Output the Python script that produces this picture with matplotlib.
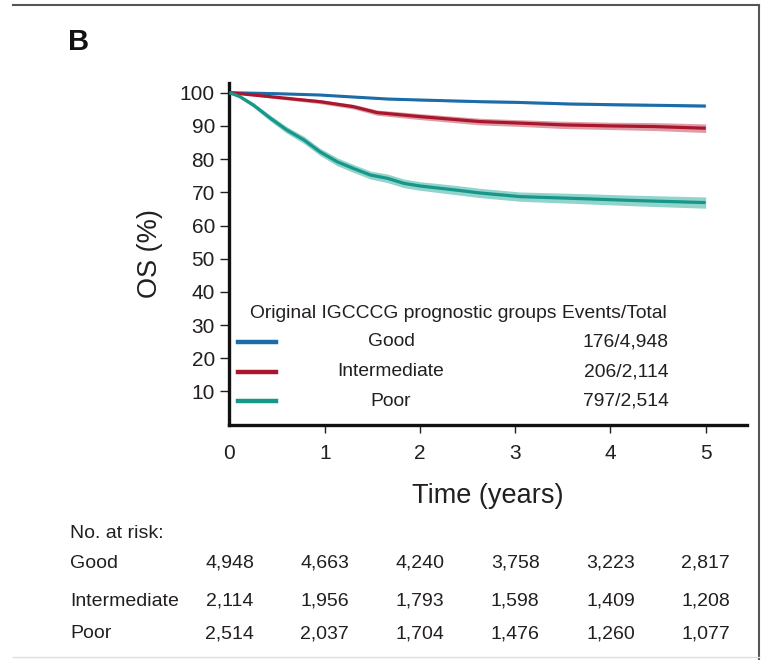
import matplotlib
matplotlib.use("Agg")
import matplotlib.pyplot as plt
from matplotlib.lines import Line2D
import matplotlib.transforms as mtransforms

plt.rcParams['font.family'] = ['Liberation Sans', 'DejaVu Sans']

# ---------------- data ----------------
groups = ["Good", "Intermediate", "Poor"]
events_total = ["176/4,948", "206/2,114", "797/2,514"]

good_t = [0, 0.5, 0.95, 1.3, 1.66, 2.0, 2.63, 3.0, 3.58, 4.0, 4.5, 5.0]
good_s = [100, 99.7, 99.3, 98.7, 98.1, 97.8, 97.3, 97.1, 96.6, 96.4, 96.2, 96.0]
good_lo = [100, 99.6, 99.15, 98.5, 97.85, 97.55, 97.0, 96.8, 96.3, 96.05, 95.85, 95.6]
good_hi = [100, 99.8, 99.45, 98.9, 98.35, 98.05, 97.6, 97.4, 96.9, 96.75, 96.55, 96.4]

int_t = [0, 0.43, 0.95, 1.3, 1.55, 2.0, 2.63, 3.0, 3.51, 4.0, 4.46, 5.0]
int_s = [100, 98.8, 97.3, 95.8, 94.0, 92.8, 91.3, 90.9, 90.3, 90.0, 89.8, 89.3]
int_lo = [100, 98.4, 96.7, 95.1, 93.2, 91.9, 90.3, 89.9, 89.2, 88.9, 88.6, 88.0]
int_hi = [100, 99.2, 97.9, 96.5, 94.8, 93.7, 92.3, 91.9, 91.4, 91.1, 91.0, 90.6]

poor_t = [0, 0.11, 0.25, 0.43, 0.60, 0.78, 0.95, 1.13, 1.30, 1.48, 1.66, 1.83, 2.0, 2.37, 2.63, 3.05, 3.58, 4.28, 5.0]
poor_s = [100, 98.8, 96.3, 92.3, 88.8, 85.8, 82.2, 79.2, 77.2, 75.2, 74.2, 72.7, 71.9, 70.7, 69.8, 68.7, 68.2, 67.5, 66.9]
poor_lo = [100, 98.3, 95.6, 91.4, 87.8, 84.7, 81.1, 78.0, 76.0, 74.0, 72.9, 71.4, 70.6, 69.3, 68.4, 67.3, 66.7, 65.9, 65.2]
poor_hi = [100, 99.3, 97.0, 93.2, 89.8, 86.9, 83.3, 80.4, 78.4, 76.4, 75.5, 74.0, 73.2, 72.1, 71.2, 70.1, 69.7, 69.1, 68.6]

risk_times = [0, 1, 2, 3, 4, 5]
risk_good = ["4,948", "4,663", "4,240", "3,758", "3,223", "2,817"]
risk_int = ["2,114", "1,956", "1,793", "1,598", "1,409", "1,208"]
risk_poor = ["2,514", "2,037", "1,704", "1,476", "1,260", "1,077"]

y_ticks = [10, 20, 30, 40, 50, 60, 70, 80, 90, 100]
x_ticks = [0, 1, 2, 3, 4, 5]

colors = ["#1b6ca8", "#a9172f", "#16978a"]
band_colors = ["#8db8d8", "#d98c97", "#7fcdc3"]
TXT = "#231f20"

# ---------------- figure ----------------
W, H = 763, 660
fig = plt.figure(figsize=(W / 100, H / 100), dpi=100)
fig.patch.set_facecolor("white")

def fx(px):
    return px / W

def fy(py):
    return 1 - py / H

ax_l, ax_r, ax_t, ax_b = 229.5, 747, 83, 424.7
ax = fig.add_axes([fx(ax_l), fy(ax_b), fx(ax_r - ax_l), (ax_b - ax_t) / H])
x0, x5 = 229.5, 705.7
ppu = (x5 - x0) / 5
ax.set_xlim(0, (ax_r - x0) / ppu)
ax.set_ylim(0, 100 + (92.7 - ax_t) / 3.32)

series = [
    (good_t, good_s, good_lo, good_hi),
    (int_t, int_s, int_lo, int_hi),
    (poor_t, poor_s, poor_lo, poor_hi),
]
for (t, s, lo, hi), c, bc, lw in zip(series, colors, band_colors, [2.2, 2.3, 2.3]):
    ax.fill_between(t, lo, hi, color=bc, alpha=0.85, lw=0, zorder=2)
    ax.plot(t, s, color=c, lw=lw, zorder=3, solid_capstyle="butt", solid_joinstyle="round")

for sp in ["top", "right"]:
    ax.spines[sp].set_visible(False)
for sp in ["left", "bottom"]:
    ax.spines[sp].set_linewidth(2.4)
    ax.spines[sp].set_color("#111111")

ax.set_yticks(y_ticks)
ax.set_yticklabels([str(v) for v in y_ticks])
ax.set_xticks(x_ticks)
ax.set_xticklabels([str(v) for v in x_ticks])
ax.tick_params(axis="y", length=6.5, width=1.0, pad=4, labelsize=15, colors=TXT)
ax.tick_params(axis="x", length=6, width=1.0, pad=8, labelsize=15, colors=TXT)
ax.get_xticklines()[0].set_visible(False)
ax.get_xticklines()[1].set_visible(False)

ax.set_ylabel("OS (%)", fontsize=19.5, color=TXT, labelpad=12)
ax.set_xlabel("Time (years)", fontsize=19.5, color=TXT, labelpad=14)

# legend block (custom, in axes fraction)
def ax_pt(px, py):
    return ((px - ax_l) / (ax_r - ax_l), (ax_b - py) / (ax_b - ax_t))

tx, ty = ax_pt(250, 313)
ax.text(tx, ty, "Original IGCCCG prognostic groups Events/Total", transform=ax.transAxes,
        fontsize=13.9, color=TXT, ha="left", va="center")
row_y = [342, 372, 401]
for g, et, c, py in zip(groups, events_total, colors, row_y):
    a1 = ax_pt(238, py)
    a2 = ax_pt(276, py)
    ax.add_line(Line2D([a1[0], a2[0]], [a1[1], a1[1]], transform=ax.transAxes, color=c, lw=3.2))
    cx = ax_pt(391, py)
    ax.text(cx[0], cx[1], g, transform=ax.transAxes, fontsize=13.9, color=TXT,
            ha="center", va="center")
    rx = ax_pt(669, py)
    ax.text(rx[0], rx[1], et, transform=ax.transAxes, fontsize=13.9, color=TXT,
            ha="right", va="center")

# panel letter
fig.text(fx(68), fy(42), "B", fontsize=21, fontweight="bold",
         ha="left", va="center", color="#111111")

# risk table
trans = mtransforms.blended_transform_factory(ax.transData, fig.transFigure)
RS = 14
fig.text(fx(70), fy(534), "No. at risk:", fontsize=RS, ha="left", va="center", color=TXT)
for lab, vals, py in zip(groups, [risk_good, risk_int, risk_poor], [563, 601, 634]):
    fig.text(fx(70), fy(py), lab, fontsize=RS, ha="left", va="center", color=TXT)
    for t, v in zip(risk_times, vals):
        ax.text(t, fy(py), v, transform=trans, fontsize=RS, ha="center", va="center",
                color=TXT, clip_on=False)

# frame lines
fig.add_artist(Line2D([fx(13), fx(759)], [fy(5), fy(5)], transform=fig.transFigure, color="#555555", lw=1.5))
fig.add_artist(Line2D([fx(759), fx(759)], [fy(5), fy(660)], transform=fig.transFigure, color="#555555", lw=1.5))
fig.add_artist(Line2D([fx(13), fx(759)], [fy(657), fy(657)], transform=fig.transFigure, color="#dddddd", lw=1.0))

fig.savefig("out.png", dpi=100, facecolor="white")
